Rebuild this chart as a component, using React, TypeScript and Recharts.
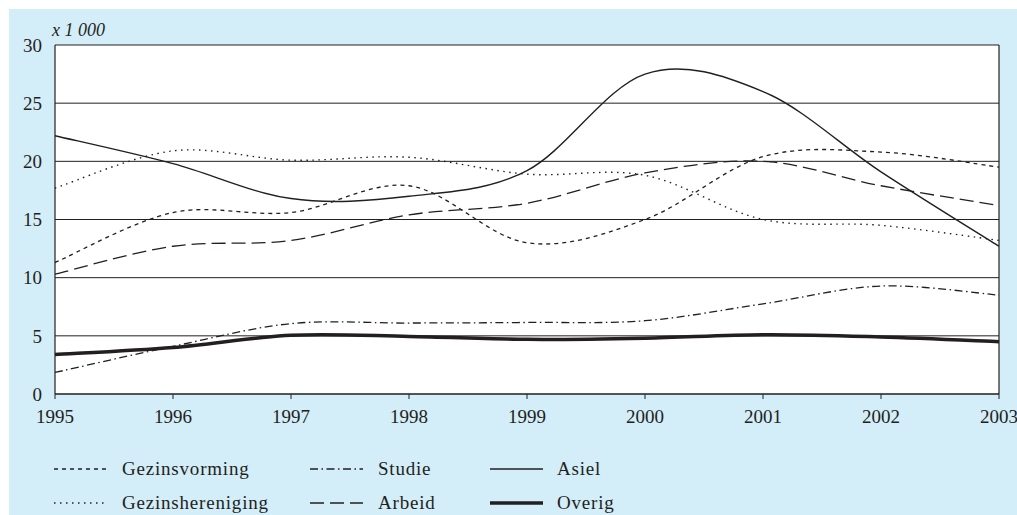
import React from 'react';
import { LineChart, Line, XAxis, YAxis, CartesianGrid, ReferenceLine } from 'recharts';

const years = [1995, 1996, 1997, 1998, 1999, 2000, 2001, 2002, 2003];
const gezinsvorming = [11.3, 15.6, 15.6, 17.9, 13.0, 15.0, 20.4, 20.8, 19.5];
const gezinshereniging = [17.7, 20.9, 20.1, 20.35, 18.9, 18.8, 15.0, 14.5, 13.2];
const studie = [1.85, 4.1, 6.05, 6.1, 6.15, 6.3, 7.75, 9.28, 8.5];
const arbeid = [10.3, 12.7, 13.2, 15.4, 16.4, 19.0, 20.0, 17.9, 16.2];
const asiel = [22.2, 19.8, 16.8, 17.0, 19.2, 27.5, 26.0, 19.1, 12.7];
const overig = [3.4, 4.0, 5.05, 4.95, 4.7, 4.8, 5.1, 4.9, 4.5];
const yTicks = [0, 5, 10, 15, 20, 25, 30];
const unitLabel = 'x 1 000';

const INK = '#231f20';
const BG = '#d3edf9';
const FONT = '"Liberation Serif", "Times New Roman", serif';

type Series = { key: string; name: string; values: number[]; dash?: string; width: number };
const series: Series[] = [
  { key: 'gezinsvorming', name: 'Gezinsvorming', values: gezinsvorming, dash: '4 4', width: 1.3 },
  { key: 'gezinshereniging', name: 'Gezinshereniging', values: gezinshereniging, dash: '1.5 4.5', width: 1.4 },
  { key: 'studie', name: 'Studie', values: studie, dash: '8 3.5 1.5 3.5', width: 1.3 },
  { key: 'arbeid', name: 'Arbeid', values: arbeid, dash: '14 6', width: 1.3 },
  { key: 'asiel', name: 'Asiel', values: asiel, width: 1.4 },
  { key: 'overig', name: 'Overig', values: overig, width: 3.5 },
];

const data = years.map((year, i) => {
  const row: Record<string, number> = { year };
  series.forEach((s) => {
    row[s.key] = s.values[i];
  });
  return row;
});

// Excel-like smoothed line (Catmull-Rom through the points)
function smoothCurve(context: any) {
  let pts: [number, number][] = [];
  return {
    areaStart() {},
    areaEnd() {},
    lineStart() {
      pts = [];
    },
    lineEnd() {
      const n = pts.length;
      if (!n) return;
      context.moveTo(pts[0][0], pts[0][1]);
      for (let i = 0; i < n - 1; i++) {
        const p0 = pts[i - 1] || pts[i];
        const p1 = pts[i];
        const p2 = pts[i + 1];
        const p3 = pts[i + 2] || p2;
        context.bezierCurveTo(
          p1[0] + (p2[0] - p0[0]) / 6,
          p1[1] + (p2[1] - p0[1]) / 6,
          p2[0] - (p3[0] - p1[0]) / 6,
          p2[1] - (p3[1] - p1[1]) / 6,
          p2[0],
          p2[1]
        );
      }
    },
    point(x: number, y: number) {
      pts.push([+x, +y]);
    },
  };
}

const legendCols = [
  { lineX: 45, textX: 113 },
  { lineX: 301, textX: 369 },
  { lineX: 481, textX: 548 },
];
const legendRows = [460, 494];

// x tick label drawn with an explicit baseline below the axis line
const XTick = (props: any) => {
  const { x, payload } = props;
  return (
    <text x={x} y={414} textAnchor="middle" fill={INK} fontSize={19} fontFamily={FONT}>
      {payload.value}
    </text>
  );
};

export default function App() {
  return (
    <div
      style={{
        position: 'fixed',
        left: 9,
        top: 9,
        width: 1008,
        height: 506,
        background: BG,
        fontFamily: FONT,
      }}
    >
      <LineChart
        width={1008}
        height={506}
        data={data}
        margin={{ top: 36, right: 18, bottom: 91, left: 0 }}
      >
        <CartesianGrid vertical={false} stroke={INK} strokeWidth={1} fill="#ffffff" fillOpacity={1} />
        <XAxis
          dataKey="year"
          type="number"
          domain={[1995, 2003]}
          ticks={years}
          interval={0}
          height={30}
          axisLine={{ stroke: INK, strokeWidth: 1.2 }}
          tickLine={{ stroke: INK, strokeWidth: 1 }}
          tickSize={5}
          tick={<XTick />}
        />
        <YAxis
          type="number"
          domain={[0, 30]}
          ticks={yTicks}
          interval={0}
          width={46}
          axisLine={{ stroke: INK, strokeWidth: 1.2 }}
          tickLine={false}
          tickSize={0}
          tickMargin={13}
          tick={{ fill: INK, fontSize: 19, fontFamily: FONT }}
        />
        <ReferenceLine x={2003} stroke={INK} strokeWidth={1.2} />
        {series.map((s) => (
          <Line
            key={s.key}
            dataKey={s.key}
            name={s.name}
            type={smoothCurve as any}
            stroke={INK}
            strokeWidth={s.width}
            strokeDasharray={s.dash}
            dot={false}
            activeDot={false}
            isAnimationActive={false}
          />
        ))}
      </LineChart>
      <svg
        width={1008}
        height={506}
        style={{ position: 'absolute', left: 0, top: 0, pointerEvents: 'none' }}
      >
        <text x={43} y={27} fontSize={18} fontStyle="italic" fill={INK} fontFamily={FONT}>
          {unitLabel}
        </text>
        {series.map((s, i) => {
          const col = legendCols[Math.floor(i / 2)];
          const y = legendRows[i % 2];
          return (
            <g key={s.key}>
              <line
                x1={col.lineX}
                x2={col.lineX + 53}
                y1={y}
                y2={y}
                stroke={INK}
                strokeWidth={s.width}
                strokeDasharray={s.dash}
              />
              <text
                x={col.textX}
                y={y + 6}
                fontSize={19}
                letterSpacing={0.8}
                fill={INK}
                fontFamily={FONT}
              >
                {s.name}
              </text>
            </g>
          );
        })}
      </svg>
    </div>
  );
}
